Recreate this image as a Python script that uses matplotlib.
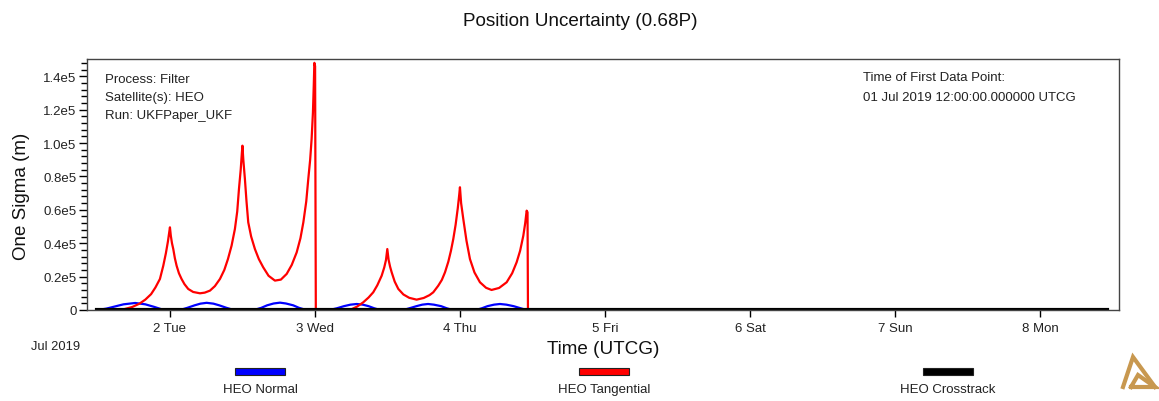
import matplotlib
matplotlib.use("Agg")  # pas d'affichage : on enregistre la figure
import matplotlib.pyplot as plt
from matplotlib.lines import Line2D
from matplotlib.patches import Rectangle
from matplotlib.ticker import FixedLocator, MultipleLocator

plt.rcParams["font.family"] = ["Liberation Sans", "DejaVu Sans"]

L, H = 1159, 402  # taille de la figure en pixels

# Axe X : jours de juillet 2019 (1.5 = 01 Jul 2019 12:00 UTCG)
jours_tick = [2, 3, 4, 5, 6, 7, 8]
labels_tick = ["2 Tue", "3 Wed", "4 Thu", "5 Fri", "6 Sat", "7 Sun", "8 Mon"]

# Axe Y
sigma_ticks = [0, 20000, 40000, 60000, 80000, 100000, 120000, 140000]
sigma_labels = ["0", "0.2e5", "0.4e5", "0.6e5", "0.8e5", "1.0e5", "1.2e5", "1.4e5"]

# HEO Tangential (m)
tang_jour = [1.50, 1.60, 1.68, 1.74, 1.79, 1.83, 1.87, 1.90, 1.931, 1.954, 1.972, 1.986, 1.995, 2.000,
             2.006, 2.014, 2.023, 2.034, 2.046, 2.062, 2.08, 2.10, 2.126, 2.16, 2.207, 2.24,
             2.276, 2.31, 2.345, 2.375, 2.40, 2.425, 2.448, 2.464, 2.476, 2.488, 2.496, 2.500,
             2.506, 2.517, 2.528, 2.54, 2.56, 2.586, 2.613, 2.643, 2.68, 2.724, 2.765, 2.805,
             2.84, 2.874, 2.90, 2.92, 2.94, 2.954, 2.967, 2.977, 2.986, 2.992, 2.996, 3.001,
             3.006, 3.10, 3.241, 3.29, 3.333, 3.37, 3.402, 3.43, 3.46, 3.478, 3.49, 3.499,
             3.508, 3.518, 3.529, 3.55, 3.575, 3.61, 3.65, 3.701, 3.75, 3.79, 3.816, 3.85,
             3.875, 3.897, 3.92, 3.938, 3.954, 3.97, 3.985, 3.995, 4.000,
             4.008, 4.023, 4.045, 4.069, 4.10, 4.138, 4.18, 4.218, 4.27, 4.322, 4.36, 4.391,
             4.415, 4.437, 4.45, 4.46, 4.466, 4.469, 8.46]
tang_sigma = [0, 0, 400, 1800, 3800, 6200, 9500, 13500, 18600, 26500, 34000, 41000, 46500, 49500,
              44500, 40000, 36500, 31000, 26500, 22000, 18600, 15500, 12600, 10800, 10000, 10400,
              11600, 14300, 18600, 24000, 30500, 38500, 48500, 59000, 72500, 84000, 94000, 98400,
              90000, 78400, 65000, 52500, 44000, 36500, 30500, 25600, 20500, 17600, 18200, 21600,
              27000, 34500, 43000, 52500, 65000, 78400, 90000, 102400, 118000, 135000, 148000, 146000,
              0, 0, 0, 2000, 4600, 7500, 10600, 14800, 20500, 25500, 30000, 36500,
              30000, 26000, 22600, 17000, 12600, 9300, 7300, 6200, 7200, 8900, 10600, 14500,
              18000, 22600, 29000, 35500, 42500, 51000, 61000, 69000, 73500,
              64000, 54500, 41500, 30500, 22500, 16600, 13300, 12000, 13200, 16600, 22000, 28600,
              35500, 44500, 52000, 59500, 58500, 0, 0]

# HEO Normal (m)
norm_jour = [1.50, 1.56, 1.62, 1.68, 1.76, 1.83, 1.89, 1.94, 1.97,
             2.07, 2.12, 2.17, 2.21, 2.253, 2.30, 2.34, 2.39, 2.44,
             2.58, 2.63, 2.67, 2.715, 2.759, 2.80, 2.85, 2.89, 2.94,
             3.10, 3.15, 3.20, 3.245, 3.288, 3.33, 3.37, 3.41, 3.45,
             3.61, 3.65, 3.70, 3.74, 3.78, 3.82, 3.87, 3.91, 3.95,
             4.11, 4.15, 4.19, 4.235, 4.276, 4.32, 4.37, 4.42, 4.46, 8.46]
norm_sigma = [0, 800, 2100, 3400, 4200, 3400, 1900, 500, 0,
              0, 1300, 2800, 3800, 4300, 3800, 2800, 1300, 0,
              0, 1300, 2800, 3900, 4400, 3900, 2800, 1300, 0,
              0, 1000, 2300, 3200, 3600, 3200, 2300, 1000, 0,
              0, 1000, 2300, 3200, 3600, 3200, 2300, 1000, 0,
              0, 1000, 2300, 3200, 3600, 3200, 2300, 1000, 0, 0]

# HEO Crosstrack (m)
cross_jour = [1.50, 8.46]
cross_sigma = [0, 0]

series = [("HEO Normal", norm_jour, norm_sigma, "#0000ff", 1.6),
          ("HEO Tangential", tang_jour, tang_sigma, "#ff0000", 1.6),
          ("HEO Crosstrack", cross_jour, cross_sigma, "#000000", 3.0)]

GRIS = "#222222"


def fx(px):
    return px / L


def fy(py):
    return 1 - py / H


fig = plt.figure(figsize=(L / 100, H / 100), dpi=100)
ax = fig.add_axes([fx(87), fy(311), (1119 - 87) / L, (311 - 60) / H])

for nom, x, y, couleur, lw in series:
    ax.plot(x, y, color=couleur, lw=lw, solid_joinstyle="round")

ax.set_xlim(1.428, 8.545)
ax.set_ylim(0, 150300)

ax.xaxis.set_major_locator(FixedLocator(jours_tick))
ax.set_xticklabels(labels_tick)
ax.yaxis.set_major_locator(FixedLocator(sigma_ticks))
ax.set_yticklabels(sigma_labels)
ax.yaxis.set_minor_locator(MultipleLocator(4000))
ax.tick_params(axis="x", direction="out", length=5, width=1, pad=4,
               labelsize=9.5, labelcolor=GRIS)
ax.tick_params(axis="y", which="major", direction="out", length=5.5, width=1,
               pad=2, labelsize=9.5, labelcolor=GRIS)
ax.tick_params(axis="y", which="minor", direction="out", length=4, width=1)
for s in ax.spines.values():
    s.set_color("#444444")
    s.set_linewidth(1)

# Textes d'information dans le cadre
for i, t in enumerate(["Process: Filter", "Satellite(s): HEO", "Run: UKFPaper_UKF"]):
    fig.text(fx(105), fy(80 + 18 * i), t, fontsize=9.5, color=GRIS, va="center")
for i, t in enumerate(["Time of First Data Point:", "01 Jul 2019 12:00:00.000000 UTCG"]):
    fig.text(fx(863), fy(78 + 20 * i), t, fontsize=9.5, color=GRIS, va="center")

# Titre et libellés d'axes
fig.text(fx(580), fy(22), "Position Uncertainty (0.68P)", fontsize=13.6,
         color="#111111", ha="center", va="center")
fig.text(fx(22), fy(196), "One Sigma (m)", fontsize=13.5, color="#111111",
         rotation=90, ha="center", va="center")
fig.text(fx(603), fy(350), "Time (UTCG)", fontsize=13.6, color="#111111",
         ha="center", va="center")
fig.text(fx(31), fy(347), "Jul 2019", fontsize=9.3, color=GRIS, va="center")

# Légende en bas (rectangles + libellés)
for (nom, x, y, couleur, lw), cx in zip(series, [260, 604, 948]):
    fig.patches.append(Rectangle((fx(cx - 25), fy(376)), 50 / L, 7 / H,
                                 transform=fig.transFigure, facecolor=couleur,
                                 edgecolor="#222222", lw=0.8))
    fig.text(fx(cx), fy(390), nom, fontsize=9.5, color=GRIS, ha="center", va="center")

# Petit logo doré en bas à droite
OR = "#c8984f"
for xs, ys in [([1123, 1133, 1155], [388, 358, 388]),
               ([1131, 1138, 1155, 1131], [388, 376, 388, 388])]:
    fig.add_artist(Line2D([fx(v) for v in xs], [fy(v) for v in ys], color=OR, lw=3,
                          transform=fig.transFigure, solid_joinstyle="miter"))

fig.savefig("out.png", dpi=100)
